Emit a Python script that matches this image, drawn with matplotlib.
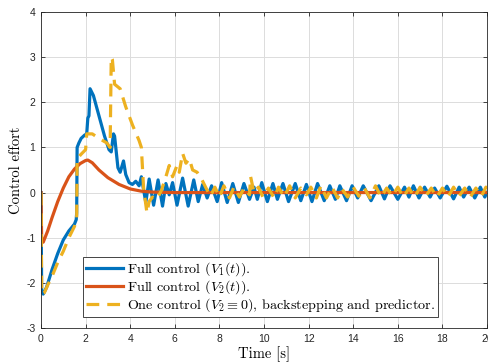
import matplotlib
matplotlib.use("Agg")
import matplotlib.pyplot as plt

# Values (time [s], control effort).
t_v1 = [0, 0.03, 0.1, 0.25, 0.5, 0.75, 1.0, 1.25, 1.5, 1.58, 1.6, 1.62, 1.7, 1.8, 1.95, 2.05,
        2.1, 2.15, 2.2, 2.35, 2.6, 2.85, 3.05, 3.15, 3.25, 3.3, 3.45, 3.55, 3.7, 3.8, 3.95,
        4.1, 4.25, 4.4, 4.5, 4.7, 4.85, 5.05, 5.25, 5.45, 5.6, 5.75, 5.9, 6.1, 6.35, 6.6,
        6.85, 7.05, 7.25, 7.45, 7.65, 7.9, 8.1, 8.35, 8.6, 8.85, 9.1, 9.35, 9.55, 9.7, 9.9,
        10.15, 10.4, 10.6, 10.85, 11.1, 11.4, 11.65, 11.9, 12.15, 12.4, 12.7, 12.95, 13.2,
        13.4, 13.7, 13.95, 14.2, 14.45, 14.8, 15.15, 15.4, 15.65, 16.0, 16.3, 16.5, 16.7,
        16.95, 17.2, 17.45, 17.65, 17.9, 18.2, 18.5, 18.75, 18.95, 19.2, 19.45, 19.7, 19.9, 20.0]
v1 = [0, -2.2, -2.25, -2.1, -1.7, -1.35, -1.05, -0.85, -0.7, -0.6, -0.45, 1.0, 1.1, 1.2, 1.27, 1.3,
      1.65, 1.7, 2.3, 2.15, 1.7, 1.25, 0.95, 0.9, 1.3, 1.25, 0.55, 0.45, 0.7, 0.4, 0.22,
      0.18, 0.25, 0.15, 0.35, -0.22, 0.3, -0.28, 0.28, -0.3, 0.2, -0.05, 0.22, -0.28, 0.32, -0.3,
      0.28, -0.2, 0.18, -0.12, 0.15, -0.2, 0.22, -0.22, 0.2, -0.22, 0.2, -0.15, 0.12, -0.15, 0.22,
      -0.2, 0.2, -0.15, 0.2, -0.2, 0.2, -0.18, 0.18, -0.2, 0.2, -0.18, 0.15, -0.15,
      0.15, -0.18, 0.15, -0.12, 0.15, -0.18, 0.15, -0.14, 0.15, -0.15, 0.12, -0.1, 0.15,
      -0.12, 0.12, -0.1, 0.1, -0.12, 0.14, -0.14, 0.12, -0.1, 0.12, -0.12, 0.12, -0.1, 0.0]

t_v2 = [0, 0.03, 0.1, 0.3, 0.5, 0.75, 1.0, 1.25, 1.5, 1.75, 2.0, 2.1, 2.3, 2.6, 3.0, 3.5,
        4.0, 4.5, 5.0, 6.0, 20.0]
v2 = [0, -1.05, -1.1, -0.85, -0.55, -0.2, 0.1, 0.35, 0.52, 0.64, 0.71, 0.72, 0.66, 0.5, 0.33, 0.18,
      0.08, 0.03, 0.01, 0.0, 0.0]

t_one = [0, 0.03, 0.15, 0.3, 0.5, 0.75, 1.0, 1.25, 1.5, 1.6, 1.62, 1.8, 2.0, 2.05, 2.3, 2.6,
         2.95, 3.1, 3.15, 3.2, 3.3, 3.55, 3.8, 4.1, 4.4, 4.5, 4.6, 4.75, 4.85, 5.0, 5.2, 5.4,
         5.6, 5.75, 5.9, 6.1, 6.2, 6.35, 6.5, 6.65, 6.8, 7.0, 7.2, 7.4, 7.6, 7.8, 8.0, 8.2,
         8.45, 8.65, 8.9, 9.1, 9.35, 9.4, 9.55, 9.75, 9.95, 10.2, 10.45, 10.65, 10.9, 11.15,
         11.4, 11.65, 11.9, 12.1, 12.35, 12.55, 12.8, 13.05, 13.3, 13.5, 13.75, 14.0, 14.25,
         14.5, 14.75, 15.0, 15.25, 15.5, 15.75, 16.0, 16.25, 16.5, 16.75, 17.0, 17.25, 17.5,
         17.75, 18.0, 18.25, 18.5, 18.75, 19.0, 19.25, 19.5, 19.75, 19.95, 20.0]
v_one = [0, -2.25, -2.22, -2.05, -1.85, -1.55, -1.3, -1.0, -0.75, -0.6, 0.75, 0.85, 0.95, 1.3, 1.3, 1.2,
         1.1, 1.0, 3.0, 2.95, 2.4, 2.3, 1.9, 1.5, 1.15, 1.0, 0.1, -0.45, -0.2, -0.1, -0.15, 0.05,
         0.35, 0.6, 0.35, 0.6, 0.45, 0.87, 0.65, 0.75, 0.5, 0.45, 0.3, 0.1, -0.08, 0.12, -0.1, 0.15,
         -0.12, 0.12, -0.1, 0.1, -0.05, 0.35, 0.0, 0.12, -0.1, 0.1, -0.12, 0.12, -0.1, 0.15,
         -0.12, 0.1, -0.05, 0.12, -0.12, 0.15, -0.12, 0.12, -0.12, 0.08, -0.1, 0.12, -0.08,
         0.1, -0.12, 0.15, -0.1, 0.1, -0.08, 0.12, -0.1, 0.1, -0.1, 0.12, -0.08, 0.1,
         -0.1, 0.1, -0.1, 0.12, -0.08, 0.1, -0.1, 0.1, -0.08, 0.12, 0.1]

labels = [r'Full control ($V_1(t)$).',
          r'Full control ($V_2(t)$).',
          r'One control ($V_2\equiv 0$), backstepping and predictor.']
colors = ['#0072BD', '#D95319', '#EDB120']

plt.rcParams['mathtext.fontset'] = 'cm'
plt.rcParams['axes.unicode_minus'] = False

fig = plt.figure(figsize=(4.88, 3.64), dpi=100)
ax = fig.add_axes([0.084, 0.099, 0.914, 0.868])

ax.plot(t_v1, v1, color=colors[0], lw=2.3, label=labels[0])
ax.plot(t_v2, v2, color=colors[1], lw=2.3, label=labels[1])
ax.plot(t_one, v_one, color=colors[2], lw=2.3, dashes=(4, 2.5), label=labels[2])

ax.set_xlim(0, 20)
ax.set_ylim(-3, 4)
ax.set_xticks(range(0, 21, 2))
ax.set_yticks(range(-3, 5))
ax.grid(True, color='#dcdcdc', lw=0.7)
ax.tick_params(direction='in', top=True, right=True, length=3, width=0.6,
               labelsize=7.5, colors='#262626', pad=4)
for lbl in ax.get_xticklabels() + ax.get_yticklabels():
    lbl.set_fontfamily('Liberation Sans')
for s in ax.spines.values():
    s.set_linewidth(0.6)
    s.set_color('#262626')

ax.set_xlabel('Time [s]', fontfamily='cmr10', fontsize=10.5, labelpad=2)
ax.set_ylabel('Control effort', fontfamily='cmr10', fontsize=10.5, labelpad=2)

leg = ax.legend(loc='lower left', bbox_to_anchor=(0.094, 0.035), borderaxespad=0,
                fancybox=False, edgecolor='#262626', framealpha=1, handlelength=2.6,
                handletextpad=0.3, borderpad=0.2, labelspacing=0.02,
                prop={'family': 'cmr10', 'size': 10.2})
leg.get_frame().set_linewidth(0.6)

fig.savefig('out.png', dpi=100)
